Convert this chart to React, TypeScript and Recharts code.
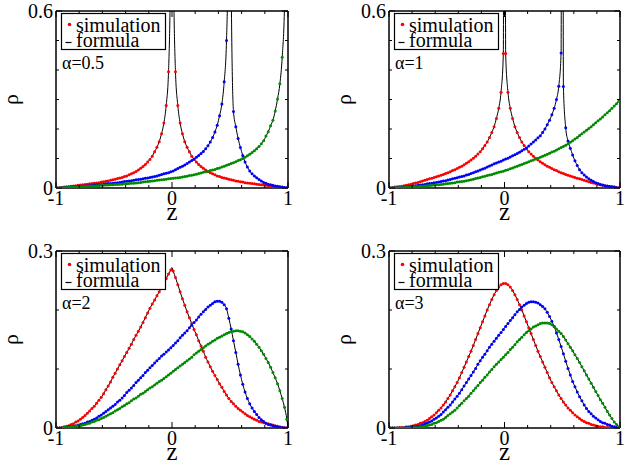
import React from 'react';
import { LineChart, Line, XAxis, YAxis, Legend } from 'recharts';

const FONT = "'Liberation Serif', 'Times New Roman', 'DejaVu Serif', serif";

// bin centres of the simulation histograms
const Z = [-0.99,-0.97,-0.95,-0.93,-0.91,-0.89,-0.87,-0.85,-0.83,-0.81,
-0.79,-0.77,-0.75,-0.73,-0.71,-0.69,-0.67,-0.65,-0.63,-0.61,
-0.59,-0.57,-0.55,-0.53,-0.51,-0.49,-0.47,-0.45,-0.43,-0.41,
-0.39,-0.37,-0.35,-0.33,-0.31,-0.29,-0.27,-0.25,-0.23,-0.21,
-0.19,-0.17,-0.15,-0.13,-0.11,-0.09,-0.07,-0.05,-0.03,-0.01,
0.01,0.03,0.05,0.07,0.09,0.11,0.13,0.15,0.17,0.19,
0.21,0.23,0.25,0.27,0.29,0.31,0.33,0.35,0.37,0.39,
0.41,0.43,0.45,0.47,0.49,0.51,0.53,0.55,0.57,0.59,
0.61,0.63,0.65,0.67,0.69,0.71,0.73,0.75,0.77,0.79,
0.81,0.83,0.85,0.87,0.89,0.91,0.93,0.95,0.97,0.99];

// alpha = 0.5
const P1_RED = [0.000,0.001,0.002,0.003,0.004,0.005,0.006,0.007,0.008,0.009,
0.010,0.011,0.012,0.013,0.014,0.015,0.016,0.017,0.018,0.020,
0.021,0.023,0.024,0.026,0.028,0.030,0.032,0.034,0.036,0.039,
0.041,0.045,0.048,0.052,0.056,0.061,0.067,0.073,0.080,0.088,
0.097,0.108,0.123,0.138,0.157,0.184,0.220,0.280,0.394,0.85,
0.85,0.394,0.280,0.220,0.184,0.157,0.138,0.123,0.108,0.097,
0.088,0.080,0.073,0.067,0.061,0.056,0.052,0.048,0.045,0.041,
0.039,0.036,0.034,0.032,0.030,0.028,0.026,0.024,0.023,0.021,
0.020,0.018,0.017,0.016,0.015,0.014,0.013,0.012,0.011,0.010,
0.009,0.008,0.007,0.006,0.005,0.004,0.003,0.002,0.001,0.000];
const P1_BLUE = [0.000,0.000,0.001,0.001,0.002,0.002,0.003,0.004,0.004,0.005,
0.006,0.006,0.007,0.008,0.008,0.009,0.010,0.011,0.011,0.012,
0.013,0.014,0.015,0.015,0.016,0.017,0.018,0.019,0.020,0.022,
0.023,0.024,0.025,0.026,0.028,0.029,0.030,0.031,0.033,0.034,
0.036,0.037,0.039,0.041,0.043,0.046,0.048,0.050,0.052,0.055,
0.058,0.062,0.066,0.070,0.074,0.078,0.083,0.088,0.093,0.098,
0.104,0.110,0.117,0.124,0.133,0.143,0.156,0.171,0.190,0.213,
0.245,0.285,0.360,0.500,1.0,0.70,0.259,0.208,0.168,0.137,
0.110,0.088,0.071,0.058,0.048,0.041,0.035,0.029,0.024,0.019,
0.016,0.013,0.011,0.009,0.007,0.006,0.004,0.003,0.002,0.001];
const P1_GREEN = [0.000,0.001,0.001,0.001,0.002,0.002,0.003,0.003,0.003,0.004,
0.004,0.005,0.005,0.006,0.006,0.007,0.007,0.008,0.008,0.009,
0.009,0.010,0.010,0.011,0.011,0.012,0.012,0.013,0.013,0.014,
0.014,0.015,0.016,0.016,0.017,0.018,0.019,0.020,0.021,0.022,
0.023,0.024,0.025,0.026,0.027,0.028,0.029,0.030,0.031,0.032,
0.033,0.034,0.035,0.036,0.037,0.039,0.040,0.042,0.043,0.045,
0.047,0.049,0.051,0.053,0.055,0.057,0.059,0.061,0.063,0.066,
0.068,0.071,0.074,0.077,0.080,0.083,0.086,0.089,0.093,0.096,
0.100,0.104,0.109,0.114,0.120,0.126,0.133,0.141,0.150,0.160,
0.176,0.191,0.211,0.230,0.261,0.302,0.353,0.443,0.62,1.2];
const P1_EXTRA_Z = [-1, 0, 0.5, 1];
const P1_EXTRA_RED = [0, 4, null, 0];
const P1_EXTRA_BLUE = [0, null, 4, 0];
const P1_EXTRA_GREEN = [0, null, null, 4];

// alpha = 1
const P2_RED = [0.001,0.002,0.003,0.004,0.005,0.006,0.008,0.009,0.011,0.013,
0.015,0.017,0.019,0.021,0.024,0.026,0.029,0.031,0.033,0.036,
0.038,0.041,0.043,0.046,0.049,0.052,0.055,0.059,0.062,0.066,
0.070,0.074,0.079,0.084,0.089,0.095,0.101,0.108,0.115,0.123,
0.133,0.144,0.156,0.171,0.188,0.208,0.236,0.270,0.325,0.456,
0.456,0.325,0.270,0.236,0.208,0.188,0.171,0.156,0.144,0.133,
0.123,0.115,0.108,0.101,0.095,0.089,0.084,0.079,0.074,0.070,
0.066,0.062,0.059,0.055,0.052,0.049,0.046,0.043,0.041,0.038,
0.036,0.033,0.031,0.029,0.026,0.024,0.021,0.019,0.017,0.015,
0.013,0.011,0.009,0.008,0.006,0.005,0.004,0.003,0.002,0.001];
const P2_BLUE = [0.000,0.000,0.001,0.001,0.002,0.002,0.003,0.004,0.005,0.006,
0.007,0.008,0.009,0.010,0.011,0.012,0.014,0.015,0.016,0.018,
0.019,0.020,0.022,0.024,0.025,0.027,0.029,0.031,0.033,0.035,
0.037,0.039,0.041,0.044,0.046,0.049,0.052,0.055,0.058,0.061,
0.064,0.067,0.071,0.075,0.078,0.082,0.085,0.088,0.091,0.095,
0.098,0.101,0.105,0.109,0.113,0.117,0.121,0.126,0.131,0.136,
0.142,0.149,0.156,0.163,0.170,0.177,0.188,0.200,0.214,0.230,
0.248,0.270,0.300,0.345,0.458,0.344,0.204,0.159,0.135,0.112,
0.092,0.076,0.062,0.052,0.044,0.037,0.031,0.026,0.022,0.018,
0.015,0.012,0.010,0.008,0.007,0.005,0.004,0.003,0.001,0.000];
const P2_GREEN = [0.000,0.000,0.001,0.001,0.002,0.002,0.002,0.003,0.003,0.004,
0.004,0.005,0.005,0.006,0.006,0.007,0.008,0.008,0.009,0.010,
0.011,0.011,0.012,0.013,0.014,0.015,0.016,0.017,0.018,0.020,
0.021,0.022,0.023,0.025,0.026,0.028,0.030,0.032,0.034,0.036,
0.038,0.040,0.042,0.044,0.046,0.048,0.051,0.053,0.055,0.057,
0.060,0.062,0.065,0.068,0.071,0.074,0.077,0.080,0.083,0.086,
0.089,0.092,0.095,0.098,0.101,0.104,0.108,0.111,0.114,0.118,
0.122,0.125,0.129,0.133,0.137,0.141,0.145,0.150,0.155,0.160,
0.166,0.171,0.178,0.184,0.190,0.196,0.202,0.208,0.214,0.221,
0.228,0.234,0.241,0.248,0.255,0.262,0.270,0.278,0.286,0.294];
const P2_EXTRA_Z = [-1, 0, 0.5, 1];
const P2_EXTRA_RED = [0, 4, null, 0];
const P2_EXTRA_BLUE = [0, null, 4, 0];
const P2_EXTRA_GREEN = [0, null, null, 0.30];

// alpha = 2
const P3_RED = [0.000,0.000,0.001,0.002,0.003,0.004,0.006,0.007,0.010,0.012,
0.015,0.018,0.021,0.025,0.029,0.033,0.037,0.042,0.047,0.052,
0.058,0.065,0.071,0.078,0.086,0.093,0.100,0.107,0.114,0.121,
0.128,0.135,0.142,0.150,0.157,0.164,0.171,0.179,0.187,0.195,
0.203,0.210,0.217,0.224,0.231,0.238,0.245,0.253,0.261,0.268,
0.266,0.255,0.243,0.231,0.219,0.208,0.197,0.187,0.177,0.167,
0.158,0.148,0.139,0.130,0.120,0.112,0.104,0.096,0.089,0.082,
0.075,0.069,0.062,0.056,0.050,0.045,0.041,0.037,0.033,0.030,
0.027,0.024,0.021,0.019,0.017,0.015,0.013,0.011,0.010,0.009,
0.008,0.007,0.006,0.005,0.004,0.003,0.002,0.001,0.001,0.000];
const P3_BLUE = [0.000,0.000,0.000,0.001,0.001,0.002,0.002,0.003,0.004,0.005,
0.006,0.007,0.008,0.010,0.011,0.013,0.015,0.017,0.020,0.022,
0.025,0.028,0.031,0.034,0.037,0.040,0.044,0.047,0.051,0.055,
0.060,0.064,0.068,0.072,0.077,0.081,0.085,0.089,0.094,0.098,
0.102,0.106,0.110,0.114,0.118,0.122,0.125,0.129,0.132,0.136,
0.140,0.144,0.148,0.153,0.157,0.161,0.165,0.170,0.174,0.179,
0.183,0.188,0.193,0.197,0.201,0.205,0.208,0.211,0.214,0.215,
0.215,0.213,0.209,0.202,0.186,0.168,0.148,0.128,0.108,0.090,
0.074,0.061,0.050,0.041,0.034,0.028,0.023,0.018,0.014,0.011,
0.008,0.006,0.005,0.004,0.003,0.002,0.001,0.001,0.000,0.000];
const P3_GREEN = [0.000,0.000,0.000,0.001,0.001,0.001,0.002,0.002,0.003,0.004,
0.004,0.005,0.006,0.007,0.008,0.010,0.011,0.013,0.014,0.016,
0.018,0.020,0.022,0.024,0.026,0.029,0.031,0.033,0.036,0.038,
0.041,0.043,0.046,0.049,0.051,0.054,0.057,0.059,0.062,0.065,
0.068,0.070,0.073,0.076,0.079,0.081,0.084,0.087,0.090,0.093,
0.096,0.099,0.102,0.105,0.108,0.111,0.114,0.117,0.120,0.124,
0.127,0.130,0.133,0.136,0.139,0.142,0.144,0.147,0.149,0.152,
0.154,0.156,0.158,0.160,0.162,0.163,0.164,0.165,0.165,0.164,
0.163,0.161,0.158,0.155,0.151,0.147,0.142,0.137,0.131,0.125,
0.118,0.111,0.103,0.094,0.085,0.075,0.063,0.050,0.035,0.015];
const P3_EXTRA_Z = [-1, 0, 1];
const P3_EXTRA_RED = [0, 0.272, 0];
const P3_EXTRA_BLUE = [0, null, 0];
const P3_EXTRA_GREEN = [0, null, 0];

// alpha = 3
const P4_RED = [0.000,0.000,0.000,0.000,0.001,0.001,0.001,0.002,0.002,0.003,
0.004,0.005,0.006,0.008,0.009,0.011,0.013,0.016,0.019,0.022,
0.026,0.030,0.034,0.039,0.044,0.050,0.056,0.063,0.070,0.077,
0.085,0.094,0.103,0.112,0.121,0.130,0.140,0.150,0.160,0.170,
0.180,0.190,0.200,0.209,0.218,0.226,0.233,0.239,0.243,0.245,
0.245,0.243,0.239,0.233,0.226,0.218,0.209,0.200,0.190,0.180,
0.170,0.160,0.150,0.140,0.130,0.121,0.112,0.103,0.094,0.085,
0.077,0.070,0.063,0.056,0.050,0.044,0.039,0.034,0.030,0.026,
0.022,0.019,0.016,0.013,0.011,0.009,0.008,0.006,0.005,0.004,
0.003,0.002,0.002,0.001,0.001,0.001,0.000,0.000,0.000,0.000];
const P4_BLUE = [0.000,0.000,0.000,0.000,0.000,0.000,0.000,0.001,0.001,0.001,
0.002,0.002,0.003,0.004,0.005,0.007,0.008,0.010,0.012,0.015,
0.017,0.020,0.023,0.027,0.031,0.035,0.039,0.044,0.049,0.054,
0.059,0.065,0.071,0.077,0.083,0.089,0.095,0.101,0.108,0.114,
0.120,0.125,0.131,0.137,0.142,0.147,0.152,0.157,0.162,0.167,
0.172,0.177,0.182,0.187,0.192,0.197,0.201,0.205,0.208,0.211,
0.213,0.214,0.214,0.213,0.212,0.209,0.206,0.202,0.196,0.189,
0.181,0.172,0.161,0.150,0.138,0.126,0.113,0.101,0.090,0.079,
0.070,0.061,0.053,0.046,0.039,0.033,0.028,0.024,0.020,0.017,
0.014,0.011,0.009,0.008,0.006,0.005,0.003,0.002,0.001,0.000];
const P4_GREEN = [0.000,0.000,0.000,0.000,0.000,0.000,0.000,0.000,0.000,0.000,
0.001,0.001,0.001,0.002,0.002,0.003,0.004,0.005,0.006,0.008,
0.009,0.011,0.013,0.015,0.018,0.021,0.024,0.027,0.030,0.034,
0.038,0.042,0.046,0.050,0.054,0.059,0.063,0.068,0.072,0.077,
0.081,0.086,0.090,0.095,0.099,0.104,0.108,0.112,0.116,0.120,
0.124,0.128,0.133,0.137,0.141,0.146,0.150,0.154,0.158,0.162,
0.165,0.168,0.171,0.173,0.175,0.177,0.178,0.178,0.178,0.177,
0.175,0.172,0.168,0.164,0.160,0.155,0.149,0.143,0.137,0.131,
0.124,0.118,0.111,0.104,0.097,0.090,0.083,0.076,0.069,0.062,
0.055,0.048,0.042,0.035,0.028,0.022,0.016,0.010,0.006,0.002];
const P4_EXTRA_Z = [-1, 1];
const P4_EXTRA_RED = [0, 0];
const P4_EXTRA_BLUE = [0, 0];
const P4_EXTRA_GREEN = [0, 0];

const X_TICKS = [-1, -0.8, -0.6, -0.4, -0.2, 0, 0.2, 0.4, 0.6, 0.8, 1];
const X_MAJOR = [-1, 0, 1];
const Y_TICKS_TOP = [0, 0.1, 0.2, 0.3, 0.4, 0.5, 0.6];
const Y_TICKS_BOTTOM = [0, 0.1, 0.2, 0.3];
const ALPHA_LABELS = ['α=0.5', 'α=1', 'α=2', 'α=3'];
const SERIES_NAMES = ['simulation', 'formula'];

const RED = '#ff0000';
const BLUE = '#0000ff';
const GREEN = '#008b00';

function buildRows(red: number[], blue: number[], green: number[], exZ: number[], exR: any[], exB: any[], exG: any[]) {
  const rows: any[] = Z.map((z, i) => ({ z, sR: red[i], sB: blue[i], sG: green[i], fR: red[i], fB: blue[i], fG: green[i] }));
  exZ.forEach((z, i) => rows.push({ z, sR: null, sB: null, sG: null, fR: exR[i], fB: exB[i], fG: exG[i] }));
  rows.sort((a, b) => a.z - b.z);
  return rows;
}

const ROWS1 = buildRows(P1_RED, P1_BLUE, P1_GREEN, P1_EXTRA_Z, P1_EXTRA_RED, P1_EXTRA_BLUE, P1_EXTRA_GREEN);
const ROWS2 = buildRows(P2_RED, P2_BLUE, P2_GREEN, P2_EXTRA_Z, P2_EXTRA_RED, P2_EXTRA_BLUE, P2_EXTRA_GREEN);
const ROWS3 = buildRows(P3_RED, P3_BLUE, P3_GREEN, P3_EXTRA_Z, P3_EXTRA_RED, P3_EXTRA_BLUE, P3_EXTRA_GREEN);
const ROWS4 = buildRows(P4_RED, P4_BLUE, P4_GREEN, P4_EXTRA_Z, P4_EXTRA_RED, P4_EXTRA_BLUE, P4_EXTRA_GREEN);

const near = (v: number, list: number[]) => list.some((m) => Math.abs(m - v) < 1e-9);
const TXT = { fontFamily: FONT } as React.CSSProperties;

function makeXTick(side: 'bottom' | 'top') {
  return (props: any) => {
    const { x, y, payload } = props;
    const v = payload.value;
    const major = near(v, X_MAJOR);
    const len = major ? 6 : 3;
    const y2 = side === 'bottom' ? y - len : y + len;
    return (
      <g>
        <line x1={x} x2={x} y1={y} y2={y2} stroke="#000" strokeWidth={1} />
        {side === 'bottom' && major ? (
          <text x={x} y={y + 17} textAnchor="middle" style={TXT} fontSize={20} fill="#000">{String(v)}</text>
        ) : null}
      </g>
    );
  };
}

function makeYTick(side: 'left' | 'right', majors: number[]) {
  return (props: any) => {
    const { x, y, payload } = props;
    const v = payload.value;
    const major = near(v, majors);
    const len = major ? 6 : 3;
    const x2 = side === 'left' ? x + len : x - len;
    return (
      <g>
        <line x1={x} x2={x2} y1={y} y2={y} stroke="#000" strokeWidth={1} />
        {side === 'left' && major ? (
          <text x={x - 3} y={y + 7} textAnchor="end" style={TXT} fontSize={20} fill="#000">{String(v)}</text>
        ) : null}
      </g>
    );
  };
}

function LegendBox({ alpha }: { alpha: string }) {
  return (
    <svg width={112} height={62} style={{ display: 'block', overflow: 'visible' }}>
      <rect x={0.5} y={0.5} width={104} height={36} fill="#fff" stroke="#000" strokeWidth={1.2} />
      <circle cx={8.5} cy={11.5} r={1.8} fill={RED} />
      <text x={15} y={18.5} style={TXT} fontSize={20} fill="#000">{SERIES_NAMES[0]}</text>
      <line x1={4.5} x2={10.5} y1={29.5} y2={29.5} stroke="#000" strokeWidth={1.2} />
      <text x={15} y={34} style={TXT} fontSize={20} fill="#000">{SERIES_NAMES[1]}</text>
      <text x={1} y={55.5} style={TXT} fontSize={18} fill="#000">{alpha}</text>
    </svg>
  );
}

const AXL = 56; // left axis width
const AXT = 11; // top axis height
const AXR = 5;  // right axis width
const AXB = 36; // bottom axis height

function Panel({ plotLeft, plotTop, pw, rows, yMax, yTicks, alpha }: any) {
  const ph = 177;
  const W = AXL + pw + AXR;
  const H = AXT + ph + AXB;
  const yMajors = [0, yMax];
  const dotStyle = (c: string) => ({ r: 1.5, fill: c, stroke: 'none' });
  return (
    <div style={{ position: 'absolute', left: plotLeft - AXL, top: plotTop - AXT, width: W, height: H }}>
      <LineChart width={W} height={H} data={rows} margin={{ top: 0, right: 0, bottom: 0, left: 0 }}>
        <XAxis xAxisId="b" orientation="bottom" dataKey="z" type="number" domain={[-1, 1]} allowDataOverflow
          ticks={X_TICKS} interval={0} tickSize={0} tickMargin={0} tickLine={false} height={AXB}
          axisLine={{ stroke: '#000', strokeWidth: 1.5 }} tick={makeXTick('bottom')}
          label={{
            content: (p: any) => {
              const vb = p.viewBox || {};
              return <text x={vb.x + vb.width / 2} y={vb.y + 32} textAnchor="middle" style={TXT} fontSize={25} fill="#000">z</text>;
            },
          }} />
        <XAxis xAxisId="t" orientation="top" dataKey="z" type="number" domain={[-1, 1]} allowDataOverflow
          ticks={X_TICKS} interval={0} tickSize={0} tickMargin={0} tickLine={false} height={AXT}
          axisLine={{ stroke: '#000', strokeWidth: 1.5 }} tick={makeXTick('top')} />
        <YAxis yAxisId="l" orientation="left" type="number" domain={[0, yMax]} allowDataOverflow
          ticks={yTicks} interval={0} tickSize={0} tickMargin={0} tickLine={false} width={AXL}
          axisLine={{ stroke: '#000', strokeWidth: 1.5 }} tick={makeYTick('left', yMajors)}
          label={{
            content: (p: any) => {
              const vb = p.viewBox || {};
              const cx = vb.x + vb.width - 38;
              const cy = vb.y + vb.height / 2;
              return <text x={cx} y={cy} transform={`rotate(-90, ${cx}, ${cy})`} textAnchor="middle" style={TXT} fontSize={22} fill="#000">ρ</text>;
            },
          }} />
        <YAxis yAxisId="r" orientation="right" type="number" domain={[0, yMax]} allowDataOverflow
          ticks={yTicks} interval={0} tickSize={0} tickMargin={0} tickLine={false} width={AXR}
          axisLine={{ stroke: '#000', strokeWidth: 1.5 }} tick={makeYTick('right', yMajors)} />
        <Legend layout="horizontal" verticalAlign="middle" align="center"
          wrapperStyle={{ left: AXL + 5, top: AXT + 1.5, width: 115, height: 62 }}
          content={() => <LegendBox alpha={alpha} />} />
        <Line xAxisId="t" yAxisId="r" dataKey="fR" stroke="none" dot={false} activeDot={false} isAnimationActive={false} connectNulls legendType="none" />
        <Line xAxisId="b" yAxisId="l" dataKey="sR" stroke="none" dot={dotStyle(RED)} activeDot={false} isAnimationActive={false} />
        <Line xAxisId="b" yAxisId="l" dataKey="sB" stroke="none" dot={dotStyle(BLUE)} activeDot={false} isAnimationActive={false} />
        <Line xAxisId="b" yAxisId="l" dataKey="sG" stroke="none" dot={dotStyle(GREEN)} activeDot={false} isAnimationActive={false} />
        <Line xAxisId="b" yAxisId="l" type="monotone" dataKey="fR" stroke="#000" strokeWidth={1} dot={false} activeDot={false} connectNulls isAnimationActive={false} />
        <Line xAxisId="b" yAxisId="l" type="monotone" dataKey="fB" stroke="#000" strokeWidth={1} dot={false} activeDot={false} connectNulls isAnimationActive={false} />
        <Line xAxisId="b" yAxisId="l" type="monotone" dataKey="fG" stroke="#000" strokeWidth={1} dot={false} activeDot={false} connectNulls isAnimationActive={false} />
      </LineChart>
    </div>
  );
}

export default function App() {
  return (
    <div style={{ position: 'absolute', left: 0, top: 0, width: 624, height: 464, overflow: 'hidden', background: '#fff', fontFamily: FONT }}>
      <Panel plotLeft={56} plotTop={11} pw={232} rows={ROWS1} yMax={0.6} yTicks={Y_TICKS_TOP} alpha={ALPHA_LABELS[0]} />
      <Panel plotLeft={389} plotTop={11} pw={231} rows={ROWS2} yMax={0.6} yTicks={Y_TICKS_TOP} alpha={ALPHA_LABELS[1]} />
      <Panel plotLeft={56} plotTop={251} pw={232} rows={ROWS3} yMax={0.3} yTicks={Y_TICKS_BOTTOM} alpha={ALPHA_LABELS[2]} />
      <Panel plotLeft={389} plotTop={251} pw={231} rows={ROWS4} yMax={0.3} yTicks={Y_TICKS_BOTTOM} alpha={ALPHA_LABELS[3]} />
    </div>
  );
}
